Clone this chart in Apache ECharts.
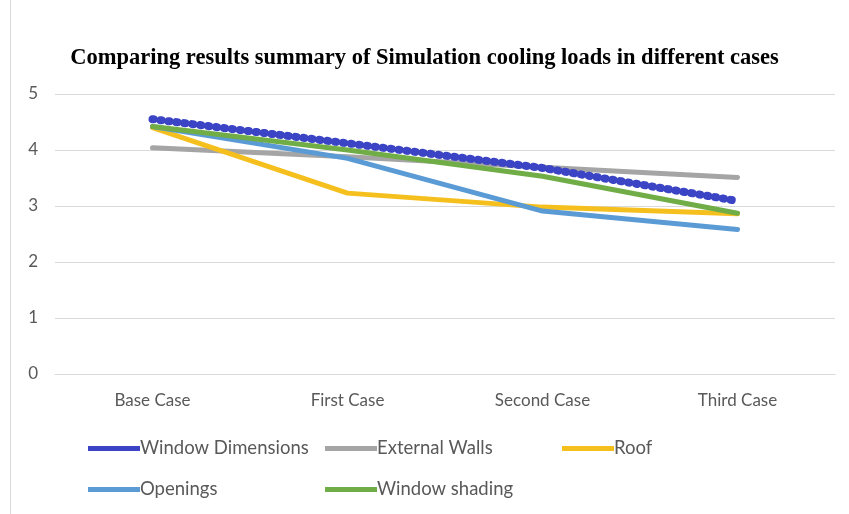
<!DOCTYPE html>
<html>
<head>
<meta charset="utf-8">
<script src="https://cdn.jsdelivr.net/npm/echarts@6/dist/echarts.min.js"></script>
<style>
  html, body { margin: 0; padding: 0; background: #fff; }
  #chart { width: 849px; height: 514px; }
</style>
</head>
<body>
<div id="chart"></div>
<script>
// Cooling load results per case
const categories = ['Base Case', 'First Case', 'Second Case', 'Third Case'];
const windowDimensions = [4.55, 4.12, 3.68, 3.09];
const externalWalls = [4.04, 3.88, 3.69, 3.51];
const roof = [4.40, 3.23, 2.98, 2.86];
const openings = [4.42, 3.85, 2.91, 2.58];
const windowShading = [4.42, 4.00, 3.53, 2.87];
const yTicks = [0, 1, 2, 3, 4, 5];

const colors = {
  'Window Dimensions': '#3A44C4',
  'External Walls': '#A5A5A5',
  'Roof': '#F5BF1E',
  'Openings': '#5B9BD5',
  'Window shading': '#70AD47'
};

const textFont = 'Lato, "Open Sans", sans-serif';

function lineSeries(name, data, extra) {
  return Object.assign({
    name: name,
    type: 'line',
    data: data,
    symbol: 'none',
    smooth: false,
    itemStyle: { color: colors[name] },
    lineStyle: { color: colors[name], width: 5, cap: 'round', join: 'round' }
  }, extra || {});
}

function legendBlock(left, names) {
  return {
    left: left,
    top: 434,
    orient: 'vertical',
    itemGap: 22,
    itemWidth: 52,
    itemHeight: 5,
    icon: 'rect',
    data: names,
    selectedMode: false,
    textStyle: { color: '#595959', fontSize: 18.5, fontFamily: textFont, padding: [0, 0, 0, -5] }
  };
}

const chart = echarts.init(document.getElementById('chart'));
chart.setOption({
  backgroundColor: '#ffffff',
  animation: false,
  title: {
    text: 'Comparing results summary of Simulation cooling loads in different cases',
    left: 'center',
    top: 42,
    textStyle: {
      fontFamily: '"Liberation Serif", "Times New Roman", serif',
      fontWeight: 'bold',
      fontSize: 22.5,
      color: '#000000'
    }
  },
  legend: [
    legendBlock(83, ['Window Dimensions', 'Openings']),
    legendBlock(320, ['External Walls', 'Window shading']),
    legendBlock(557, ['Roof'])
  ],
  grid: { left: 55, right: 14, top: 94, bottom: 140, containLabel: false },
  xAxis: {
    type: 'category',
    data: categories,
    boundaryGap: true,
    axisLine: { show: true, lineStyle: { color: '#D9D9D9', width: 1 } },
    axisTick: { show: false },
    axisLabel: { color: '#595959', fontSize: 17, fontFamily: textFont, margin: 18 }
  },
  yAxis: {
    type: 'value',
    min: yTicks[0],
    max: yTicks[yTicks.length - 1],
    interval: 1,
    axisLine: { show: false },
    axisTick: { show: false },
    splitLine: { lineStyle: { color: '#D9D9D9', width: 1 } },
    axisLabel: { color: '#595959', fontSize: 17, fontFamily: textFont, margin: 17 }
  },
  graphic: [
    {
      type: 'line',
      shape: { x1: 10.5, y1: 0, x2: 10.5, y2: 514 },
      style: { stroke: '#D9D9D9', lineWidth: 1 },
      silent: true
    }
  ],
  series: [
    lineSeries('External Walls', externalWalls),
    lineSeries('Roof', roof),
    lineSeries('Openings', openings),
    lineSeries('Window shading', windowShading),
    lineSeries('Window Dimensions', windowDimensions, {
      lineStyle: { color: colors['Window Dimensions'], width: 8, type: [1, 7], cap: 'round', join: 'round' }
    })
  ]
});
</script>
</body>
</html>
